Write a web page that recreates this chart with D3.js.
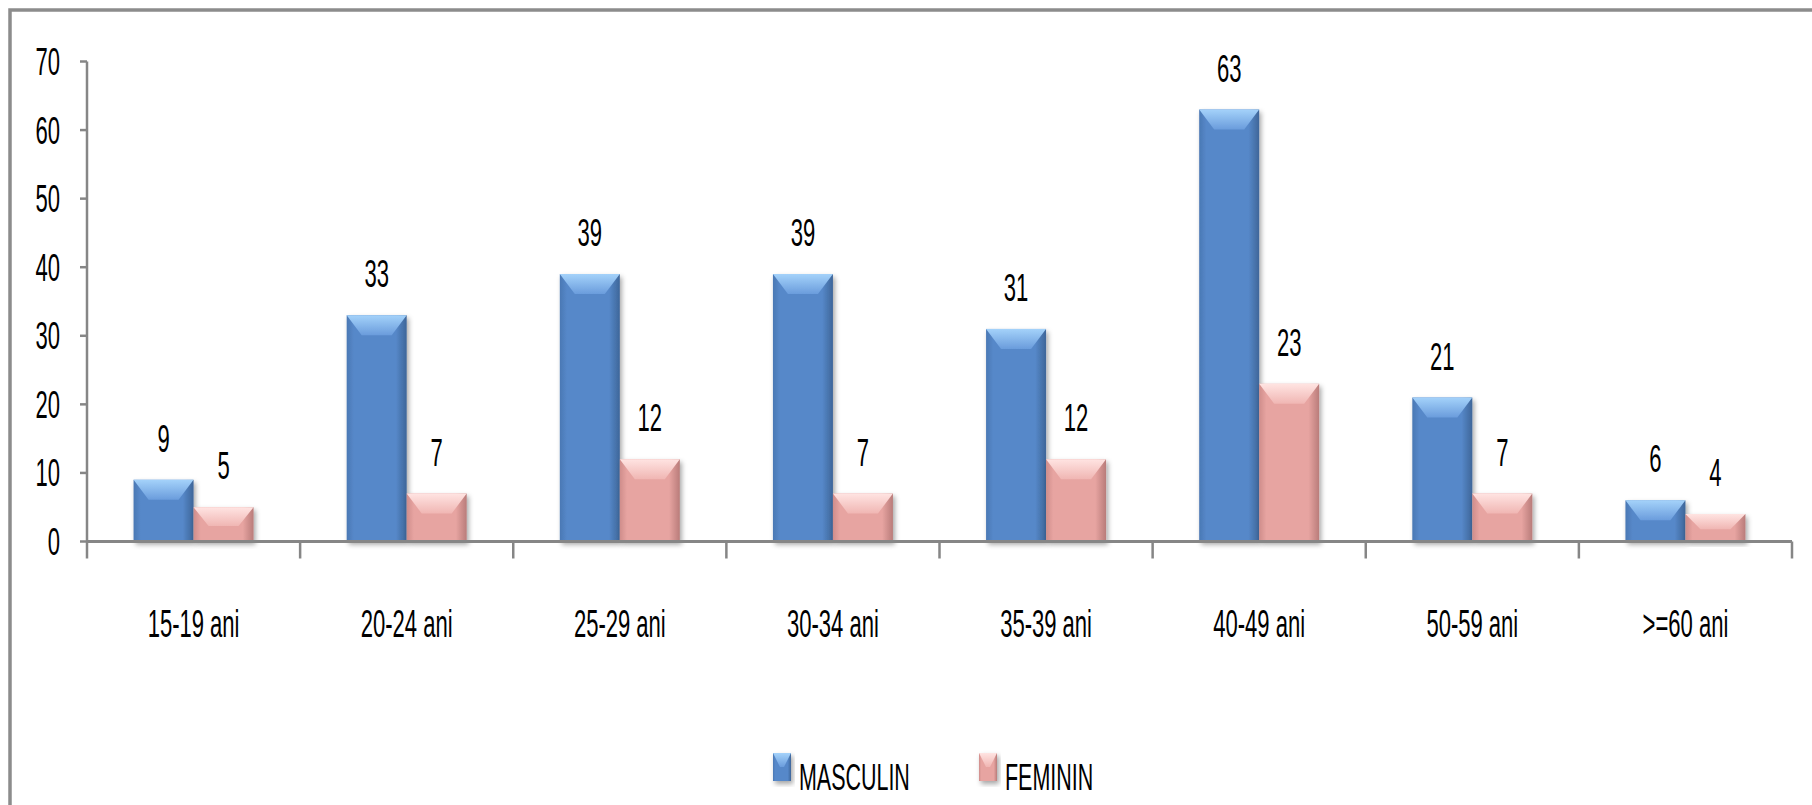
<!DOCTYPE html>
<html><head><meta charset="utf-8">
<script src="https://cdn.jsdelivr.net/npm/d3@7"></script>
<style>html,body{margin:0;padding:0;background:#fff;overflow:hidden}</style>
</head><body>
<svg id="c" width="1812" height="805"></svg>
<script>
const categories = ["15-19 ani","20-24 ani","25-29 ani","30-34 ani","35-39 ani","40-49 ani","50-59 ani",">=60 ani"];
const seriesNames = ["MASCULIN","FEMININ"];
const masculin = [9,33,39,39,31,63,21,6];
const feminin = [5,7,12,7,12,23,7,4];
const yTicks = [0,10,20,30,40,50,60,70];

const svg = d3.select("#c");
const FONT = "'Liberation Sans', Arial, sans-serif";
const FS = 38, SX = 0.58;

const x0 = d3.scaleBand().domain(categories).range([87, 1792]).padding(0);
const x1 = d3.scaleBand().domain(seriesNames).range([0, x0.bandwidth()]).paddingInner(0).paddingOuter(0.776);
const y = d3.scaleLinear().domain([0, 70]).range([541.5, 61.5]);

const defs = svg.append("defs");
const pal = {
  MASCULIN: {edgeL:"#4A78B4", mid:"#5688C9", edgeR:"#3E6699", bt:"#A4D2FA", bb:"#6A9CDC"},
  FEMININ:  {edgeL:"#CF8D8B", mid:"#E7A4A1", edgeR:"#B97C7A", bt:"#FFE4E2", bb:"#F0B6B3"}
};
Object.entries(pal).forEach(([k,p]) => {
  const g = defs.append("linearGradient").attr("id","side"+k).attr("x1","0").attr("x2","1").attr("y1","0").attr("y2","0");
  g.append("stop").attr("offset","0").attr("stop-color",p.edgeL);
  g.append("stop").attr("offset","0.12").attr("stop-color",p.mid);
  g.append("stop").attr("offset","0.82").attr("stop-color",p.mid);
  g.append("stop").attr("offset","1").attr("stop-color",p.edgeR);
  const t = defs.append("linearGradient").attr("id","top"+k).attr("x1","0").attr("x2","0").attr("y1","0").attr("y2","1");
  t.append("stop").attr("offset","0").attr("stop-color",p.bt);
  t.append("stop").attr("offset","1").attr("stop-color",p.bb);
});
const f = defs.append("filter").attr("id","sh").attr("x","-20%").attr("y","-20%").attr("width","140%").attr("height","140%");
f.append("feDropShadow").attr("dx",2).attr("dy",3).attr("stdDeviation",2.5).attr("flood-color","#000").attr("flood-opacity",0.35);

// frame
svg.append("rect").attr("x",10).attr("y",10).attr("width",1830).attr("height",830)
  .attr("fill","none").attr("stroke","#8C8C8C").attr("stroke-width",3.5);

function txt(g, x, yy, s, anchor, size) {
  return g.append("text").attr("transform",`translate(${x},${yy}) scale(${SX},1)`)
    .attr("text-anchor",anchor||"middle").attr("font-family",FONT).attr("font-size",size||FS)
    .attr("fill","#000").text(s);
}

// y axis
const ax = svg.append("g");
ax.append("line").attr("x1",87).attr("x2",87).attr("y1",y(70)).attr("y2",y(0)).attr("stroke","#868686").attr("stroke-width",2.5);
yTicks.forEach(t => {
  ax.append("line").attr("x1",80).attr("x2",87).attr("y1",y(t)).attr("y2",y(t)).attr("stroke","#868686").attr("stroke-width",2.5);
  txt(ax, 60, y(t)+13.5, String(t), "end");
});

// bars
const data = categories.map((c,i)=>({cat:c, vals:[{s:"MASCULIN",v:masculin[i]},{s:"FEMININ",v:feminin[i]}]}));
const gb = svg.append("g");
data.forEach(d => {
  d.vals.forEach(o => {
    const bx = x0(d.cat) + x1(o.s), bw = x1.bandwidth(), by = y(o.v), bh = y(0) - y(o.v);
    const g = gb.append("g").attr("filter","url(#sh)");
    g.append("rect").attr("x",bx).attr("y",by).attr("width",bw).attr("height",bh).attr("fill",`url(#side${o.s})`);
    const bv = Math.min(20, bh*0.55), bi = Math.min(15, bw*0.25);
    g.append("polygon").attr("points",`${bx},${by} ${bx+bw},${by} ${bx+bw-bi},${by+bv} ${bx+bi},${by+bv}`)
      .attr("fill",`url(#top${o.s})`);
  });
});

// x axis
const xa = svg.append("g");
xa.append("line").attr("x1",87).attr("x2",1792).attr("y1",y(0)).attr("y2",y(0)).attr("stroke","#868686").attr("stroke-width",3);
const bounds = categories.map(c=>x0(c)).concat([x0.range()[1]]);
bounds.forEach(b => xa.append("line").attr("x1",b).attr("x2",b).attr("y1",y(0)).attr("y2",y(0)+17).attr("stroke","#868686").attr("stroke-width",2.5));
categories.forEach(c => txt(xa, x0(c)+x0.bandwidth()/2, 637, c));

// value labels
data.forEach(d => d.vals.forEach(o => {
  txt(svg, x0(d.cat)+x1(o.s)+x1.bandwidth()/2, y(o.v)-28, String(o.v));
}));

// legend
const lg = svg.append("g");
const legX = [773, 979];
seriesNames.forEach((s,i) => {
  const g = lg.append("g").attr("filter","url(#sh)");
  const bx = legX[i], by = 753, bw = 18, bh = 28;
  g.append("rect").attr("x",bx).attr("y",by).attr("width",bw).attr("height",bh).attr("fill",`url(#side${s})`);
  g.append("polygon").attr("points",`${bx},${by} ${bx+bw},${by} ${bx+bw/2+2},${by+bh/2} ${bx+bw/2-2},${by+bh/2}`).attr("fill",`url(#top${s})`);
  txt(lg, bx+26, 790, s, "start", 37);
});
</script>
</body></html>
